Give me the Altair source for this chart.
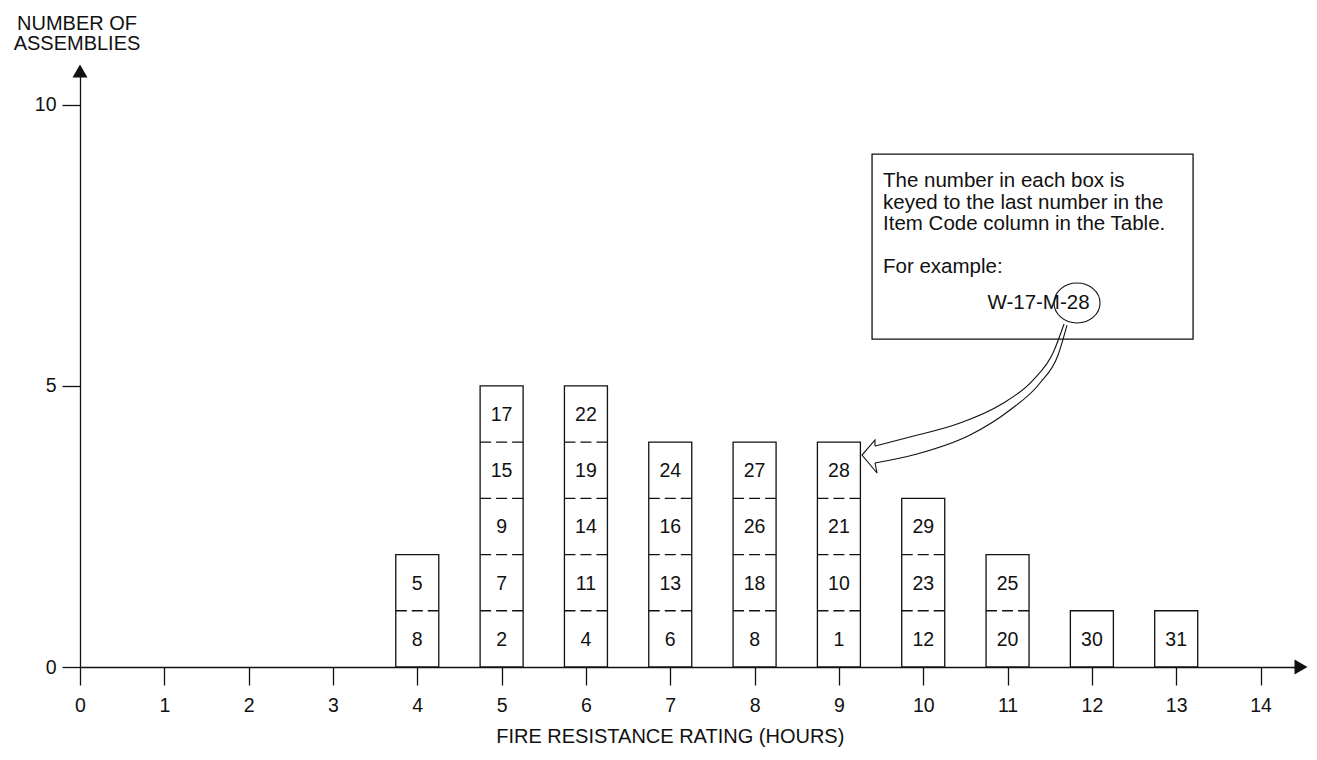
import altair as alt
import pandas as pd

FONT = "Liberation Sans"
INK = "#111111"

# ---------------- data ----------------
HOURS = [4, 5, 6, 7, 8, 9, 10, 11, 12, 13]
BOXES = [
    [8, 5],
    [2, 7, 9, 15, 17],
    [4, 11, 14, 19, 22],
    [6, 13, 16, 24],
    [8, 18, 26, 27],
    [1, 10, 21, 28],
    [12, 23, 29],
    [20, 25],
    [30],
    [31],
]
X_TICKS = list(range(0, 15))
Y_TICKS = [0, 5, 10]
X_TITLE = "FIRE RESISTANCE RATING (HOURS)"
Y_TITLE = "NUMBER OF\nASSEMBLIES"
NOTE_LINES = [
    "The number in each box is",
    "keyed to the last number in the",
    "Item Code column in the Table.",
]
NOTE_EXAMPLE = "For example:"
EXAMPLE_CODE = "W-17-M-28"

# annotation geometry (data units)
NOTE_BOX_X = [9.393, 13.20]
NOTE_BOX_Y = [5.833, 9.123]
NOTE_TEXT_AT = [9.523, 8.536]
NOTE_EXAMPLE_AT = [9.523, 7.007]
CODE_AT = [11.367, 6.367]
RING_AT = [11.824, 6.473]
ARROW_UPPER_X = [9.428, 9.843, 10.436, 10.911, 11.302, 11.539, 11.670]
ARROW_UPPER_Y = [3.930, 4.090, 4.339, 4.659, 5.104, 5.584, 6.100]
ARROW_LOWER_X = [9.428, 9.926, 10.555, 11.029, 11.385, 11.599, 11.705]
ARROW_LOWER_Y = [3.628, 3.788, 4.126, 4.571, 5.051, 5.549, 6.082]
ARROW_HEAD_X = [9.428, 9.428, 9.274, 9.452, 9.428]
ARROW_HEAD_Y = [3.930, 4.037, 3.770, 3.450, 3.628]

# ---------------- layout ----------------
W, H = 1221, 596
X_MAX, Y_MAX = 14.48, 10.6
BAR_HALF = 0.255

XS = alt.Scale(domain=[0, X_MAX], nice=False, zero=False)
YS = alt.Scale(domain=[0, Y_MAX], nice=False, zero=False)
XA = alt.Axis(values=X_TICKS, tickSize=18, labelPadding=11, labelFontSize=19.5,
              labelFont=FONT, labelColor=INK, domainColor=INK, tickColor=INK,
              domainWidth=1.3, tickWidth=1.3, grid=False, title=None,
              labelFlush=False, labelOverlap=False)
YA = alt.Axis(values=Y_TICKS, tickSize=18, labelPadding=6, labelFontSize=19.5,
              labelFont=FONT, labelColor=INK, domainColor=INK, tickColor=INK,
              domainWidth=1.3, tickWidth=1.3, grid=False, title=None,
              labelFlush=False, labelOverlap=False)


def X(f):
    return alt.X(f, type="quantitative", scale=XS, axis=XA)


def Y(f):
    return alt.Y(f, type="quantitative", scale=YS, axis=YA)


# ---------------- tables ----------------
cols = pd.DataFrame({
    "hour": HOURS,
    "n": [len(b) for b in BOXES],
})
cols["x1"] = cols["hour"] - BAR_HALF
cols["x2"] = cols["hour"] + BAR_HALF
cols["y0"] = 0

cells, seps = [], []
for h, b in zip(HOURS, BOXES):
    for k, lab in enumerate(b):
        cells.append({"hour": h, "ymid": k + 0.5, "label": str(lab)})
        if k > 0:
            seps.append({"x1": h - BAR_HALF, "x2": h + BAR_HALF, "y": k})
cells = pd.DataFrame(cells)
seps = pd.DataFrame(seps)

# ---------------- layers ----------------
bars = alt.Chart(cols).mark_rect(fill="white", stroke=INK, strokeWidth=1.3).encode(
    x=X("x1"), x2="x2", y=Y("y0"), y2="n")

dashes = alt.Chart(seps).mark_rule(stroke=INK, strokeWidth=1.3, strokeDash=[11, 5]).encode(
    x=X("x1"), x2="x2", y=Y("y"))

labels = alt.Chart(cells).mark_text(font=FONT, fontSize=19.5, color=INK, baseline="middle", dy=1).encode(
    x=X("hour"), y=Y("ymid"), text="label:N")

heads = alt.Chart(pd.DataFrame({
    "x": [0, X_MAX], "y": [Y_MAX, 0], "shape": ["triangle-up", "triangle-right"]
})).mark_point(filled=True, color=INK, size=225, opacity=1).encode(
    x=X("x"), y=Y("y"), shape=alt.Shape("shape:N", scale=None))

ytitle = alt.Chart(pd.DataFrame({"t": [Y_TITLE]})).mark_text(
    font=FONT, fontSize=20, color=INK, align="center", baseline="alphabetic",
    lineBreak="\n", lineHeight=20).encode(
    x=alt.value(-3), y=alt.value(-41), text="t:N")

xtitle = alt.Chart(pd.DataFrame({"t": [X_TITLE], "x": [(X_TICKS[0] + X_TICKS[-1]) / 2]})).mark_text(
    font=FONT, fontSize=20, color=INK, align="center", baseline="alphabetic").encode(
    x=X("x"), y=alt.value(672), text="t:N")

note_box = alt.Chart(pd.DataFrame({
    "x1": [NOTE_BOX_X[0]], "x2": [NOTE_BOX_X[1]], "y1": [NOTE_BOX_Y[0]], "y2": [NOTE_BOX_Y[1]]
})).mark_rect(fill="white", stroke=INK, strokeWidth=1.3).encode(
    x=X("x1"), x2="x2", y=Y("y1"), y2="y2")

note_df = pd.DataFrame({
    "t": ["\n".join(NOTE_LINES), NOTE_EXAMPLE],
    "x": [NOTE_TEXT_AT[0], NOTE_EXAMPLE_AT[0]],
    "y": [NOTE_TEXT_AT[1], NOTE_EXAMPLE_AT[1]],
})
note_text = alt.Chart(note_df).mark_text(
    font=FONT, fontSize=20.5, color=INK, align="left", baseline="alphabetic",
    lineBreak="\n", lineHeight=21.5).encode(
    x=X("x"), y=Y("y"), text="t:N")

code_text = alt.Chart(pd.DataFrame({
    "t": [EXAMPLE_CODE], "x": [CODE_AT[0]], "y": [CODE_AT[1]]
})).mark_text(font=FONT, fontSize=20.5, color=INK, align="center", baseline="alphabetic").encode(
    x=X("x"), y=Y("y"), text="t:N")

ELLIPSE = "M-1.07,0A1.07,0.93,0,1,0,1.07,0A1.07,0.93,0,1,0,-1.07,0Z"
ring = alt.Chart(pd.DataFrame({"x": [RING_AT[0]], "y": [RING_AT[1]]})).mark_point(
    shape=ELLIPSE, size=1849, filled=False, stroke=INK, strokeWidth=1.1, opacity=1).encode(
    x=X("x"), y=Y("y"))

shaft_df = pd.DataFrame({
    "x": ARROW_UPPER_X + ARROW_LOWER_X,
    "y": ARROW_UPPER_Y + ARROW_LOWER_Y,
    "seg": ["upper"] * len(ARROW_UPPER_X) + ["lower"] * len(ARROW_LOWER_X),
})
shafts = alt.Chart(shaft_df).mark_line(interpolate="monotone", color=INK, strokeWidth=1.1).encode(
    x=X("x"), y=Y("y"), detail="seg:N")

head_df = pd.DataFrame({"x": ARROW_HEAD_X, "y": ARROW_HEAD_Y, "ord": list(range(len(ARROW_HEAD_X)))})
arrow_head = alt.Chart(head_df).mark_line(interpolate="linear", color=INK, strokeWidth=1.1).encode(
    x=X("x"), y=Y("y"), order="ord:Q")

chart = alt.layer(
    bars, dashes, labels, heads, ytitle, xtitle,
    note_box, note_text, code_text, ring, shafts, arrow_head
).properties(
    width=W, height=H,
    padding={"left": 72, "top": 63, "right": 8, "bottom": 80},
    autosize=alt.AutoSizeParams(type="none"),
    background="white",
).configure_view(stroke=None)

chart.save("out.html", embed_options={"renderer": "svg", "actions": False})
